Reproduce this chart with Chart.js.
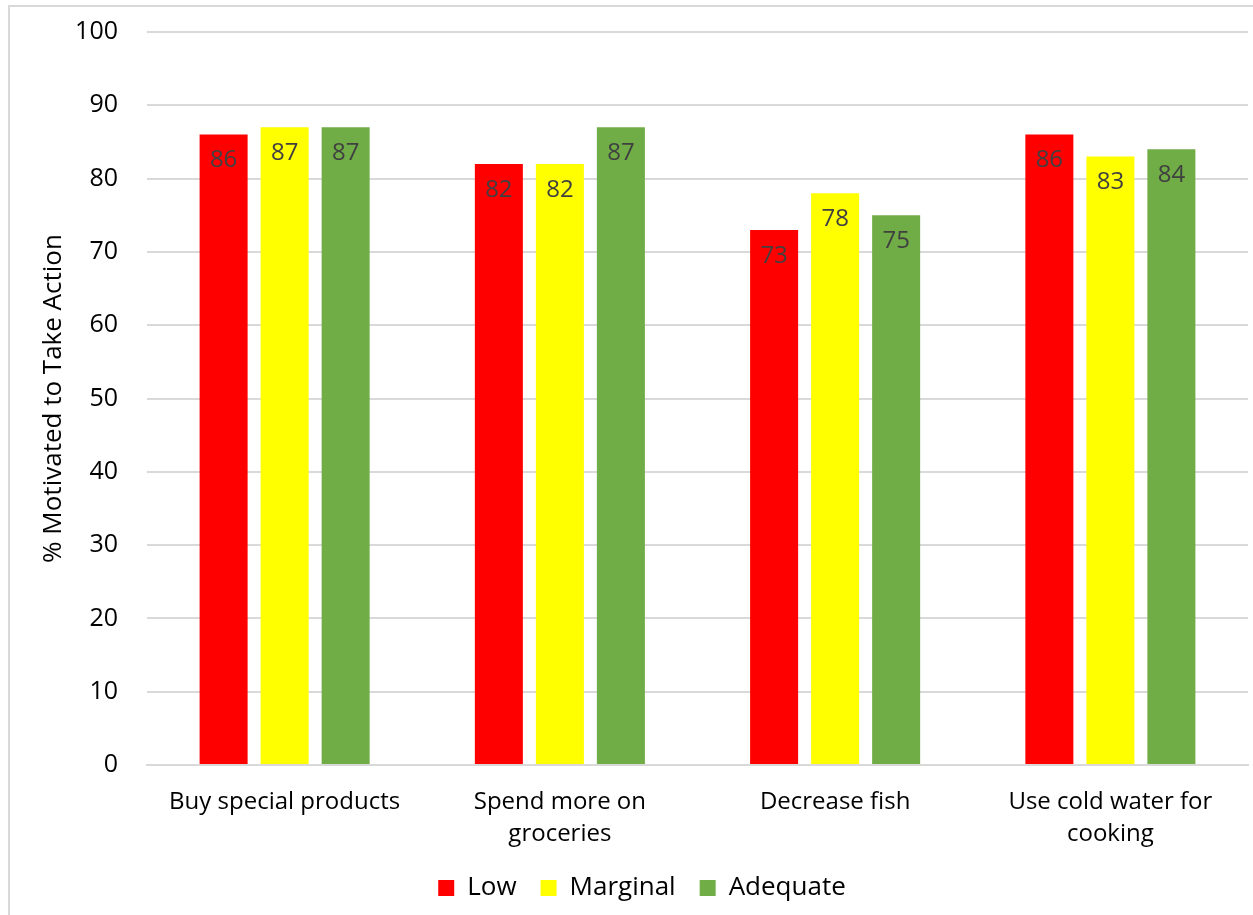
<!DOCTYPE html>
<html>
<head>
<meta charset="utf-8">
<script src="https://cdn.jsdelivr.net/npm/chart.js@4"></script>
<style>
  html, body { margin: 0; padding: 0; background: #ffffff; }
  #wrap { width: 1253px; height: 915px; position: relative; }
</style>
</head>
<body>
<div id="wrap"><canvas id="chart" width="1253" height="915"></canvas></div>
<script>
// Survey actions and the share of respondents motivated to take each one
const categories = [
  "Buy special products",
  ["Spend more on", "groceries"],
  "Decrease fish",
  ["Use cold water for", "cooking"]
];
const seriesNames = ["Low", "Marginal", "Adequate"];
const lowValues = [86, 82, 73, 86];
const marginalValues = [87, 82, 78, 83];
const adequateValues = [87, 87, 75, 84];
const yTicks = [0, 10, 20, 30, 40, 50, 60, 70, 80, 90, 100];

const seriesColors = ["#ff0000", "#ffff00", "#70ad47"];
const FONT = "'Open Sans', 'Liberation Sans', sans-serif";

// White backdrop with a thin frame along the top and left edges
const framePlugin = {
  id: "frame",
  beforeDraw(chart) {
    const ctx = chart.ctx;
    ctx.save();
    ctx.fillStyle = "#ffffff";
    ctx.fillRect(0, 0, chart.width, chart.height);
    ctx.strokeStyle = "#d9d9d9";
    ctx.lineWidth = 2;
    ctx.beginPath();
    ctx.moveTo(9, chart.height);
    ctx.lineTo(9, 6);
    ctx.lineTo(chart.width, 6);
    ctx.stroke();
    ctx.restore();
  }
};

// Nudge the legend row so it sits a little right of the canvas centre
const legendShift = {
  id: "legendShift",
  afterLayout(chart) {
    if (chart.legend) {
      chart.legend.left += 18;
      chart.legend.right += 18;
    }
  }
};

// Value labels placed just inside the top of each bar
const valueLabels = {
  id: "valueLabels",
  afterDatasetsDraw(chart) {
    const ctx = chart.ctx;
    ctx.save();
    ctx.font = "24px " + FONT;
    ctx.fillStyle = "#404040";
    ctx.textAlign = "center";
    ctx.textBaseline = "middle";
    chart.data.datasets.forEach((ds, di) => {
      const meta = chart.getDatasetMeta(di);
      meta.data.forEach((bar, i) => {
        ctx.fillText(String(ds.data[i]), bar.x, bar.y + 26);
      });
    });
    ctx.restore();
  }
};

new Chart(document.getElementById("chart"), {
  type: "bar",
  data: {
    labels: categories,
    datasets: [
      { label: seriesNames[0], data: lowValues, backgroundColor: seriesColors[0] },
      { label: seriesNames[1], data: marginalValues, backgroundColor: seriesColors[1] },
      { label: seriesNames[2], data: adequateValues, backgroundColor: seriesColors[2] }
    ]
  },
  options: {
    responsive: false,
    animation: false,
    categoryPercentage: 0.665,
    barPercentage: 0.787,
    layout: { padding: { left: 0, right: 5, top: 32, bottom: 4 } },
    plugins: {
      tooltip: { enabled: false },
      legend: {
        position: "bottom",
        labels: {
          font: { family: FONT, size: 26 },
          color: "#000000",
          boxWidth: 16,
          boxHeight: 16,
          padding: 24
        }
      }
    },
    scales: {
      x: {
        grid: { display: false },
        border: { display: true, color: "#d9d9d9", width: 2 },
        afterFit(scale) { scale.height = 86; },
        ticks: {
          font: { family: FONT, size: 24, lineHeight: 1.33 },
          color: "#000000",
          maxRotation: 0,
          autoSkip: false,
          padding: 13
        }
      },
      y: {
        min: 0,
        max: 100,
        afterBuildTicks(scale) {
          scale.ticks = yTicks.map(v => ({ value: v }));
        },
        afterFit(scale) { scale.width = 147; },
        grid: {
          color: "#d9d9d9",
          lineWidth: 2,
          drawTicks: true,
          tickLength: 26,
          tickColor: "rgba(0,0,0,0)"
        },
        border: { display: false },
        ticks: {
          font: { family: FONT, size: 25 },
          color: "#000000",
          padding: 3
        },
        title: {
          display: true,
          text: "% Motivated to Take Action",
          font: { family: FONT, size: 26 },
          color: "#000000",
          padding: { top: 38, bottom: 0 }
        }
      }
    }
  },
  plugins: [framePlugin, legendShift, valueLabels]
});
</script>
</body>
</html>
